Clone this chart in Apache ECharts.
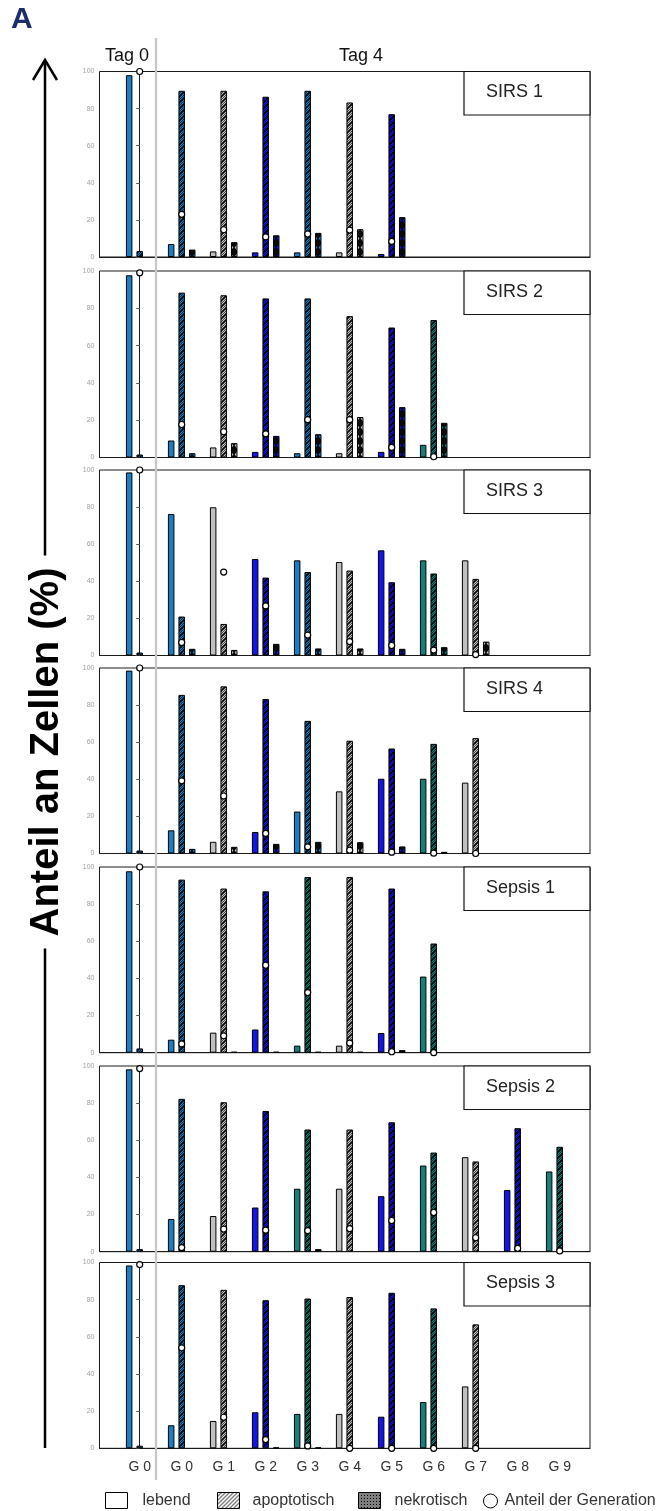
<!DOCTYPE html>
<html>
<head>
<meta charset="utf-8">
<script src="https://cdn.jsdelivr.net/npm/echarts@6/dist/echarts.min.js"></script>
<style>
  html, body { margin: 0; padding: 0; background: #ffffff; }
  #chart { width: 657px; height: 1511px; }
</style>
</head>
<body>
<div id="chart"></div>
<script>
// Generation labels along the bottom axis (first group = day 0, the rest = day 4)
const categories = ['G 0', 'G 0', 'G 1', 'G 2', 'G 3', 'G 4', 'G 5', 'G 6', 'G 7', 'G 8', 'G 9'];
const panelNames = ['SIRS 1', 'SIRS 2', 'SIRS 3', 'SIRS 4', 'Sepsis 1', 'Sepsis 2', 'Sepsis 3'];
const seriesNames = ['lebend', 'apoptotisch', 'nekrotisch', 'Anteil der Generation'];
const yTicks = [0, 20, 40, 60, 80, 100];

// Percentages per panel (rows) and generation (columns); null = no cells
const lebend = [
  [98, 7, 3, 2.5, 2.5, 2.5, 1.6, null, null, null, null],
  [97.7, 9.1, 5.4, 3, 2.3, 2.3, 3, 6.8, null, null, null],
  [98.7, 76.3, 79.9, 52, 51.3, 50.4, 56.7, 51.3, 51.3, null, null],
  [98.6, 12.5, 6.3, 11.6, 22.6, 33.5, 40.3, 40.3, 38.2, null, null],
  [97.7, 7, 10.8, 12.5, 3.8, 3.8, 10.6, 41, null, null, null],
  [98.2, 17.6, 19.2, 23.8, 33.9, 33.9, 29.9, 46.4, 50.9, 33.2, 43.2],
  [98.4, 12.4, 14.7, 19.4, 18.5, 18.5, 17, 24.9, 33.3, null, null]
];
const apoptotisch = [
  [3.2, 89.6, 89.6, 86.4, 89.6, 83.3, 77, null, null, null, null],
  [1.6, 88.4, 87, 85.3, 85.3, 75.8, 69.7, 73.7, null, null, null],
  [1.6, 21, 17, 42, 45, 45.8, 39.5, 44.2, 41.3, null, null],
  [1.6, 85.5, 90.1, 83.3, 71.5, 60.8, 56.6, 59.1, 62.2, null, null],
  [2.3, 93.2, 88.4, 86.9, 94.6, 94.6, 88.4, 58.8, null, null, null],
  [1.4, 82.3, 80.5, 75.8, 65.8, 65.8, 69.7, 53.4, 48.6, 66.5, 56.5],
  [1.4, 87.8, 85.3, 79.7, 80.6, 81.4, 83.7, 75.3, 66.7, null, null]
];
const nekrotisch = [
  [null, 4, 8, 11.7, 13, 15, 21.5, null, null, null, null],
  [null, 2.3, 7.7, 11.6, 12.5, 21.7, 27, 18.6, null, null, null],
  [null, 3.6, 3, 6.3, 3.8, 3.8, 3.6, 4.5, 7.5, null, null],
  [null, 2.5, 3.6, 5.2, 6.3, 6.1, 3.8, 0.9, null, null, null],
  [null, null, 0.5, 0.5, 0.5, 0.5, 1.4, null, null, null, null],
  [null, null, null, null, 1.4, null, null, null, null, null, null],
  [null, null, null, 0.5, 0.5, null, null, null, null, null, null]
];
const anteil = [
  [100, 23, 14.7, 10.8, 12.4, 14.5, 8.4, null, null, null, null],
  [99, 17.7, 13.8, 12.7, 20.3, 20.3, 5.4, 0.4, null, null, null],
  [100, 7, 45, 26.7, 11, 7.5, 5.4, 2.9, 0.5, null, null],
  [100, 39.2, 31, 10.8, 3.6, 1.8, 0.7, 0.2, 0, null, null],
  [100, 4.7, 9.1, 47.1, 32.4, 5.2, 0.5, 0, null, null, null],
  [98.6, 2.2, 12.2, 11.6, 11.3, 12.4, 16.8, 21.1, 7.5, 1.8, 0.4],
  [98.9, 54.1, 16.7, 4.7, 1.3, 0, 0, 0, 0, null, null]
];

// ---- layout ----
const W = 657;
const AXIS_LEFT = 99.5, AXIS_RIGHT = 590;
const GROUP0 = 139.7, STEP = 42;             // pixel centre of first group, group pitch
const X_MIN = -(GROUP0 - AXIS_LEFT) / STEP;
const X_MAX = (AXIS_RIGHT - GROUP0) / STEP;
const PANEL_TOP = [71.5, 271, 470, 668, 867, 1066, 1262.5];
const PANEL_ZERO = [257, 457.5, 655.5, 853.5, 1052.7, 1251.7, 1448.3];
const FONT = 'Liberation Sans, Arial, sans-serif';

const C_G0 = '#1a7ec4', C_GRAY = '#c0c0c0', C_BLUE = '#1414ee', C_TEAL = '#15807a';
const sirsColors = [C_G0, C_G0, C_GRAY, C_BLUE, C_G0, C_GRAY, C_BLUE, C_TEAL, C_GRAY, C_BLUE, C_TEAL];
const sepsisColors = [C_G0, C_G0, C_GRAY, C_BLUE, C_TEAL, C_GRAY, C_BLUE, C_TEAL, C_GRAY, C_BLUE, C_TEAL];
const panelColors = panelNames.map(n => n.indexOf('Sepsis') === 0 ? sepsisColors : sirsColors);

// ---- fill patterns ----
const patternCache = {};
function hatchFill(color) {           // apoptotic: colour with dark dots and "/" strokes
  const key = 'a' + color;
  if (patternCache[key]) return patternCache[key];
  const c = document.createElement('canvas');
  c.width = 6; c.height = 6;
  const g = c.getContext('2d');
  g.fillStyle = color; g.fillRect(0, 0, 6, 6);
  g.fillStyle = 'rgba(0,0,0,0.62)';
  for (let y = 0; y < 6; y++) for (let x = y % 2; x < 6; x += 2) g.fillRect(x, y, 1, 1);
  g.strokeStyle = '#000'; g.lineWidth = 1.1;
  g.beginPath(); g.moveTo(-1, 7); g.lineTo(7, -1); g.stroke();
  return (patternCache[key] = { image: c, repeat: 'repeat' });
}
function crossFill(color) {           // necrotic: dark with coloured diamonds
  const key = 'n' + color;
  if (patternCache[key]) return patternCache[key];
  const c = document.createElement('canvas');
  c.width = 6; c.height = 9;
  const g = c.getContext('2d');
  g.fillStyle = '#0a0a0a'; g.fillRect(0, 0, 6, 9);
  g.fillStyle = color;
  g.beginPath(); g.moveTo(3, 1.5); g.lineTo(5.3, 4.5); g.lineTo(3, 7.5); g.lineTo(0.7, 4.5); g.closePath(); g.fill();
  return (patternCache[key] = { image: c, repeat: 'repeat' });
}
function legendHatch() {
  const c = document.createElement('canvas');
  c.width = 4; c.height = 4;
  const g = c.getContext('2d');
  g.fillStyle = '#fff'; g.fillRect(0, 0, 4, 4);
  g.strokeStyle = '#000'; g.lineWidth = 1;
  g.beginPath(); g.moveTo(-1, 5); g.lineTo(5, -1); g.stroke();
  return { image: c, repeat: 'repeat' };
}
function legendCross() {
  const c = document.createElement('canvas');
  c.width = 3; c.height = 3;
  const g = c.getContext('2d');
  g.fillStyle = '#fff'; g.fillRect(0, 0, 3, 3);
  g.fillStyle = '#000';
  g.fillRect(0, 0, 1, 1); g.fillRect(2, 0, 1, 1); g.fillRect(1, 1, 1, 1); g.fillRect(0, 2, 1, 1); g.fillRect(2, 2, 1, 1);
  return { image: c, repeat: 'repeat' };
}

// ---- build grids, axes, series ----
const grid = [], xAxis = [], yAxis = [], series = [];
panelNames.forEach((name, p) => {
  const cols = panelColors[p];
  grid.push({
    left: AXIS_LEFT, width: AXIS_RIGHT - AXIS_LEFT,
    top: PANEL_TOP[p], height: PANEL_ZERO[p] - PANEL_TOP[p],
    show: true, borderColor: '#1a1a1a', borderWidth: 1, backgroundColor: 'transparent',
    containLabel: false, outerBoundsMode: 'none'
  });
  xAxis.push({
    type: 'value', gridIndex: p, min: X_MIN, max: X_MAX,
    axisLine: { show: true, onZero: false, lineStyle: { color: '#1a1a1a', width: 1 } },
    axisTick: { show: false }, axisLabel: { show: false }, splitLine: { show: false }
  });
  yAxis.push({
    type: 'value', gridIndex: p, min: yTicks[0], max: yTicks[yTicks.length - 1], interval: 20,
    axisLine: { show: true, lineStyle: { color: '#1a1a1a', width: 1 } },
    axisTick: { show: true, length: 3.5, lineStyle: { color: '#555' } },
    axisLabel: { fontSize: 7, color: '#a0a0a0', margin: 5, fontFamily: FONT },
    splitLine: { show: false }
  });

  const barBase = {
    type: 'bar', xAxisIndex: p, yAxisIndex: p, barWidth: 6.5, barGap: '62%',
    itemStyle: { borderColor: '#000', borderWidth: 1 }, animation: false
  };
  series.push(Object.assign({}, barBase, {
    name: seriesNames[0],
    data: lebend[p].map((v, i) => v == null ? null : { value: [i, v], itemStyle: { color: cols[i] } }).filter(Boolean)
  }));
  series.push(Object.assign({}, barBase, {
    name: seriesNames[1],
    data: apoptotisch[p].map((v, i) => v == null ? null : { value: [i, v], itemStyle: { color: hatchFill(cols[i]) } }).filter(Boolean)
  }));
  series.push(Object.assign({}, barBase, {
    name: seriesNames[2],
    data: nekrotisch[p].map((v, i) => v == null ? null : { value: [i, v], itemStyle: { color: crossFill(cols[i]) } }).filter(Boolean)
  }));
  series.push({
    type: 'scatter', name: seriesNames[3], xAxisIndex: p, yAxisIndex: p,
    symbol: 'circle', symbolSize: 6, clip: false, z: 5, animation: false,
    itemStyle: { color: '#ffffff', borderColor: '#000', borderWidth: 1.2, opacity: 1 },
    data: anteil[p].map((v, i) => v == null ? null : [i, v]).filter(Boolean)
  });
});

// category axis carrying the generation labels under the last panel
const labelGrid = panelNames.length;
grid.push({
  left: GROUP0 - STEP / 2, width: STEP * categories.length,
  top: PANEL_ZERO[PANEL_ZERO.length - 1], height: 1, containLabel: false, outerBoundsMode: 'none'
});
xAxis.push({
  type: 'category', gridIndex: labelGrid, data: categories, position: 'bottom',
  axisLine: { show: false }, axisTick: { show: false },
  axisLabel: { fontSize: 14, color: '#333', margin: 11, fontFamily: FONT, interval: 0 }
});
yAxis.push({ type: 'value', gridIndex: labelGrid, show: false });

// ---- annotations ----
const TITLE_Y = 752, TITLE_SIZE = 40;
const titleHalf = 9.224 * TITLE_SIZE / 2;
const graphic = [
  { type: 'text', left: 11, top: 5, style: { text: 'A', font: 'bold 30px ' + FONT, fill: '#1d2d6b' } },
  { type: 'polyline', shape: { points: [[33, 80], [45, 60], [57, 80]] }, style: { stroke: '#000', lineWidth: 2.5, fill: null } },
  { type: 'line', shape: { x1: 45, y1: 61, x2: 45, y2: TITLE_Y - titleHalf - 12 }, style: { stroke: '#000', lineWidth: 2.5 } },
  { type: 'line', shape: { x1: 45, y1: TITLE_Y + titleHalf + 12, x2: 45, y2: 1448 }, style: { stroke: '#000', lineWidth: 2.5 } },
  { type: 'text', x: 47, y: TITLE_Y, rotation: Math.PI / 2,
    style: { text: 'Anteil an Zellen (%)', font: 'bold ' + TITLE_SIZE + 'px ' + FONT, fill: '#000', align: 'center', verticalAlign: 'middle' } },
  { type: 'line', z: 20, shape: { x1: 156, y1: 38, x2: 156, y2: 1480 }, style: { stroke: '#c8c8c8', lineWidth: 2.3 } },
  { type: 'text', x: 127, y: 56, style: { text: 'Tag 0', font: '18px ' + FONT, fill: '#111', align: 'center', verticalAlign: 'middle' } },
  { type: 'text', x: 361, y: 56, style: { text: 'Tag 4', font: '18px ' + FONT, fill: '#111', align: 'center', verticalAlign: 'middle' } }
];
panelNames.forEach((name, p) => {
  graphic.push({ type: 'rect', z: 30, shape: { x: 464, y: PANEL_TOP[p], width: AXIS_RIGHT - 464, height: 43.5 },
    style: { fill: '#fff', stroke: '#111', lineWidth: 1.2 } });
  graphic.push({ type: 'text', z: 31, x: 486, y: PANEL_TOP[p] + 21,
    style: { text: name, font: '18px ' + FONT, fill: '#222', verticalAlign: 'middle' } });
});

// ---- legend, one component per entry ----
const legendText = (pad) => ({ fontSize: 16, color: '#333', fontFamily: FONT, padding: [0, 0, 0, pad] });
const legend = [
  { left: 105, top: 1492, padding: 0, itemWidth: 22, itemHeight: 16, selectedMode: false, textStyle: legendText(10),
    data: [{ name: seriesNames[0], icon: 'rect', itemStyle: { color: '#fff', borderColor: '#000', borderWidth: 1 } }] },
  { left: 217, top: 1492, padding: 0, itemWidth: 22, itemHeight: 16, selectedMode: false, textStyle: legendText(8),
    data: [{ name: seriesNames[1], icon: 'rect', itemStyle: { color: legendHatch(), borderColor: '#000', borderWidth: 1 } }] },
  { left: 358, top: 1492, padding: 0, itemWidth: 22, itemHeight: 16, selectedMode: false, textStyle: legendText(9),
    data: [{ name: seriesNames[2], icon: 'rect', itemStyle: { color: legendCross(), borderColor: '#000', borderWidth: 1 } }] },
  { left: 483, top: 1493, padding: 0, itemWidth: 14, itemHeight: 14, selectedMode: false, textStyle: legendText(2),
    data: [{ name: seriesNames[3], icon: 'circle', itemStyle: { color: '#fff', borderColor: '#000', borderWidth: 1 } }] }
];

const chart = echarts.init(document.getElementById('chart'), null, { renderer: 'canvas', width: W, height: 1511 });
chart.setOption({
  animation: false,
  backgroundColor: '#ffffff',
  textStyle: { fontFamily: FONT },
  grid, xAxis, yAxis, series, legend, graphic,
  tooltip: { show: false }
});
</script>
</body>
</html>
